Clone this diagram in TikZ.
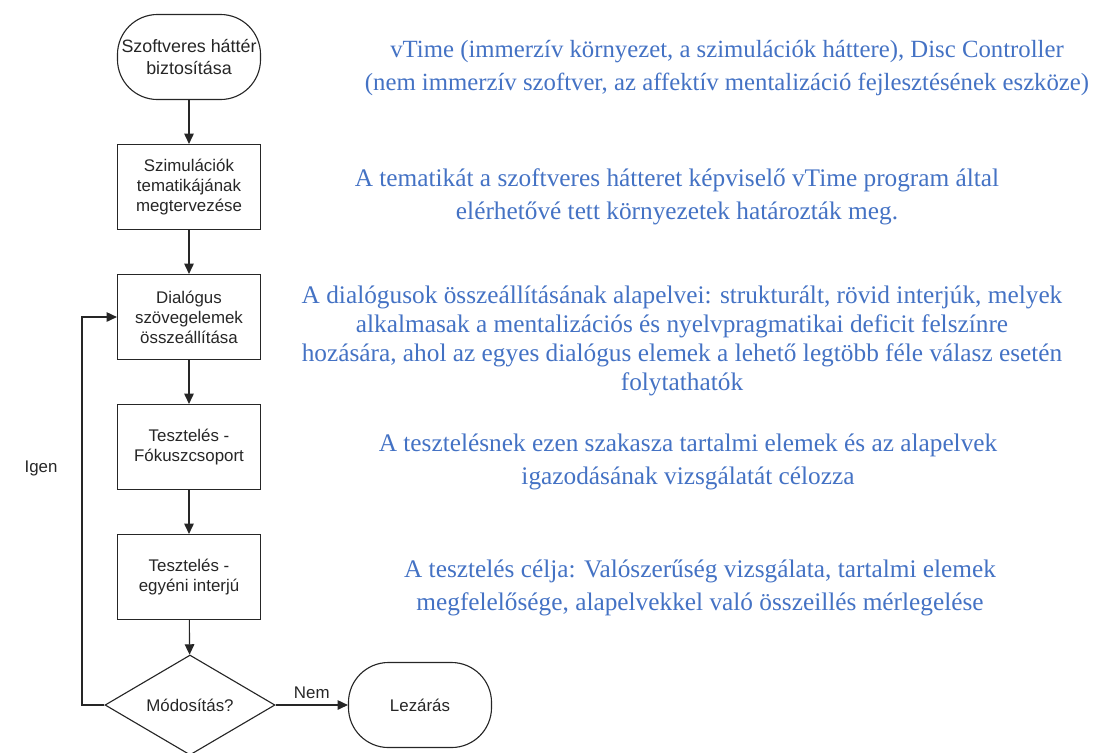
\documentclass[tikz,border=0pt]{standalone}
\usepackage{fontspec}
\setmainfont{Liberation Serif}
\newfontfamily\flowfont{Liberation Sans}
\definecolor{noteblue}{HTML}{4472C4}
\definecolor{inkgray}{HTML}{262626}
\usetikzlibrary{shapes.geometric,arrows.meta}

\begin{document}
\begin{tikzpicture}[
  x=0.025cm, y=-0.025cm,
  >={Triangle[length=2.6mm,width=2.4mm]},
  term/.style={draw=inkgray, rounded corners=1cm, line width=0.8pt, align=center,
               minimum width=3.575cm, minimum height=2.125cm, inner sep=1pt,
               text=inkgray, font=\flowfont\fontsize{12.7}{16.3}\selectfont},
  proc/.style={draw=inkgray, line width=0.8pt, align=center,
               minimum width=3.575cm, minimum height=2.125cm, inner sep=2pt,
               text=inkgray, font=\flowfont\fontsize{12}{14.3}\selectfont},
  decide/.style={draw=inkgray, diamond, aspect=1.7, line width=0.8pt, inner sep=0pt,
                 minimum width=4.25cm, minimum height=2.5cm,
                 text=inkgray, font=\flowfont\fontsize{12}{14.3}\selectfont},
  note/.style={align=center, text=noteblue, font=\fontsize{18}{23.4}\selectfont},
  flow/.style={->, line width=0.8pt, inkgray},
  tag/.style={text=inkgray, font=\flowfont\fontsize{12}{14.3}\selectfont}
]
\useasboundingbox (0,0) rectangle (1095,752);
% flowchart
\node[term] (start)     at (189,57)  {Szoftveres háttér\\biztosítása};
\node[proc] (theme)     at (189,187) {Szimulációk\\tematikájának\\megtervezése};
\node[proc] (dialog)    at (189,317) {Dialógus\\szövegelemek\\összeállítása};
\node[proc] (focus)     at (189,447) {Tesztelés -\\Fókuszcsoport};
\node[proc] (interview) at (189,577) {Tesztelés -\\egyéni interjú};
\node[decide] (modify)  at (190,705) {Módosítás?};
\node[term, font=\flowfont\fontsize{12}{14.3}\selectfont] (close) at (420,705) {Lezárás};
\node[tag]  (yes)       at (41,468)  {Igen};
\coordinate (loop) at (82,705);
\draw[flow] (start) -- (theme);
\draw[flow] (theme) -- (dialog);
\draw[flow] (dialog) -- (focus);
\draw[flow] (focus) -- (interview);
\draw[flow] (interview) -- (modify);
\draw[flow] (modify) -- node[tag, above=1pt]{Nem} (close);
\draw[flow] (modify.west) -- (loop) |- (dialog.west);
% notes
\node[note, font=\fontsize{17.6}{23.4}\selectfont] (n1) at (727,68)  {vTime (immerzív környezet, a szimulációk háttere), Disc Controller\\(nem immerzív szoftver, az affektív mentalizáció fejlesztésének eszköze)};
\node[note] (n2) at (677,197) {A tematikát a szoftveres hátteret képviselő vTime program által\\elérhetővé tett környezetek határozták meg.};
\node[note, font=\fontsize{18}{20.8}\selectfont] (n3) at (682,341)
  {A dialógusok összeállításának alapelvei: strukturált, rövid interjúk, melyek\\alkalmasak a mentalizációs és nyelvpragmatikai deficit felszínre\\hozására, ahol az egyes dialógus elemek a lehető legtöbb féle válasz esetén\\folytathatók};
\node[note] (n4) at (688,462) {A tesztelésnek ezen szakasza tartalmi elemek és az alapelvek\\igazodásának vizsgálatát célozza};
\node[note] (n5) at (700,588) {A tesztelés célja: Valószerűség vizsgálata, tartalmi elemek\\megfelelősége, alapelvekkel való összeillés mérlegelése};
\end{tikzpicture}
\end{document}
